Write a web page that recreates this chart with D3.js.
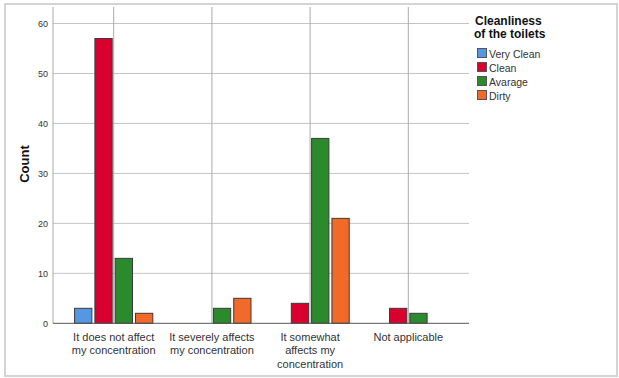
<!DOCTYPE html>
<html><head><meta charset="utf-8">
<script src="https://cdn.jsdelivr.net/npm/d3@7"></script>
<style>body{margin:0;background:#fff}svg{display:block;font-family:"Liberation Sans",Arial,sans-serif}</style>
</head><body><svg id="c" width="619" height="378"></svg>
<script>
const categories = [["It does not affect","my concentration"],["It severely affects","my concentration"],["It somewhat","affects my","concentration"],["Not applicable"]];
const seriesNames = ["Very Clean","Clean","Avarage","Dirty"];
const seriesColors = ["#5597e3","#d90030","#2b8a2b","#f26a2a"];
const veryClean = [3,0,0,0];
const clean = [57,0,4,3];
const avarage = [13,3,37,2];
const dirty = [2,5,21,0];
const yTicks = [0,10,20,30,40,50,60];
const values = [veryClean, clean, avarage, dirty];

const svg = d3.select("#c");
svg.append("rect").attr("x",5).attr("y",4).attr("width",612).attr("height",372)
  .attr("fill","none").attr("stroke","#d4d4d4").attr("stroke-width",2);

const L=53,R=469,T=7,B=323.3;
const x = d3.scalePoint().domain(d3.range(categories.length)).range([L,R]).padding(0.618);
const y = d3.scaleLinear().domain([0,63.3]).range([B,T]);
const step = 19.8;
const inner = d3.scaleBand().domain(d3.range(seriesNames.length)).range([-2*step,2*step]).paddingInner(0.1);

// grid
svg.append("g").selectAll("line").data(yTicks.filter(d=>d>0)).join("line")
  .attr("x1",L).attr("x2",R).attr("y1",d=>y(d)).attr("y2",d=>y(d))
  .attr("stroke","#c4c4c4").attr("stroke-width",1);
svg.append("g").selectAll("line").data(d3.range(categories.length)).join("line")
  .attr("x1",d=>x(d)).attr("x2",d=>x(d)).attr("y1",T).attr("y2",B)
  .attr("stroke","#aaaaaa").attr("stroke-width",1);
svg.append("line").attr("x1",L).attr("x2",L).attr("y1",T).attr("y2",B).attr("stroke","#aaaaaa");

// bars
values.forEach((arr,si)=>{
  svg.append("g").selectAll("rect").data(arr.map((v,ci)=>({v,ci})).filter(d=>d.v>0)).join("rect")
    .attr("x",d=>x(d.ci)+inner(si)+0.5)
    .attr("y",d=>y(d.v))
    .attr("width",inner.bandwidth()-1)
    .attr("height",d=>B-y(d.v))
    .attr("fill",seriesColors[si]).attr("stroke","#3a3a3a").attr("stroke-width",1);
});

// baseline
svg.append("line").attr("x1",L).attr("x2",R).attr("y1",B).attr("y2",B).attr("stroke","#555").attr("stroke-width",1);

// y axis labels
const yAxis = d3.axisLeft(y).tickValues(yTicks).tickSize(0).tickPadding(5);
const ga = svg.append("g").attr("transform",`translate(${L},0)`).call(yAxis);
ga.select(".domain").remove();
ga.selectAll("text").attr("font-size",9).attr("fill","#333").attr("font-family","Liberation Sans, Arial, sans-serif");

// x labels
categories.forEach((lines,i)=>{
  const t = svg.append("text").attr("x",x(i)).attr("y",340.5).attr("text-anchor","middle")
    .attr("font-size",11).attr("fill","#333");
  lines.forEach((s,k)=>t.append("tspan").attr("x",x(i)).attr("dy",k?13.5:0).text(s));
});

// y title
svg.append("text").attr("transform","translate(29,164) rotate(-90)").attr("text-anchor","middle")
  .attr("font-size",13).attr("font-weight","bold").attr("fill","#111").text("Count");

// legend
const lg = svg.append("g");
lg.append("text").attr("x",475).attr("y",25).attr("font-size",12).attr("font-weight","bold").attr("fill","#111").text("Cleanliness");
lg.append("text").attr("x",474).attr("y",38).attr("font-size",12).attr("font-weight","bold").attr("fill","#111").text("of the toilets");
seriesNames.forEach((n,i)=>{
  lg.append("rect").attr("x",477.5).attr("y",48.5+i*14).attr("width",9).attr("height",9)
    .attr("fill",seriesColors[i]).attr("stroke","#555");
  lg.append("text").attr("x",489).attr("y",57.5+i*14).attr("font-size",10.5).attr("fill","#333").text(n);
});
</script></body></html>
